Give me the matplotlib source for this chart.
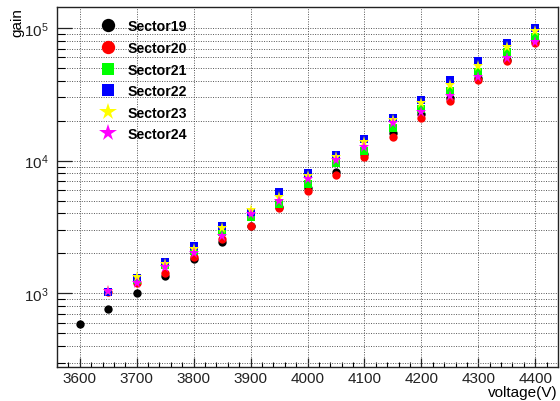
import matplotlib
matplotlib.use("Agg")
import matplotlib.pyplot as plt
from matplotlib.ticker import LogLocator, MultipleLocator, NullFormatter
import numpy as np

plt.rcParams['font.family'] = ['Liberation Sans', 'DejaVu Sans']

voltage = [3600, 3650, 3700, 3750, 3800, 3850, 3900, 3950, 4000, 4050,
           4100, 4150, 4200, 4250, 4300, 4350, 4400]
v24 = voltage[1:]

sector19 = [590, 757, 1010, 1358, 1800, 2423, 3200, 4500, 6224, 8260,
            11220, 16070, 22650, 29670, 42000, 57440, 80000]
sector20 = [1025, 1200, 1422, 1893, 2565, 3236, 4398, 5900, 7840,
            10590, 15000, 20860, 28320, 40790, 56150, 77750]
sector21 = [1030, 1250, 1620, 2100, 2914, 3727, 4710, 6667, 9600,
            11880, 17540, 24490, 33650, 46900, 65660, 85100]
sector22 = [1030, 1305, 1730, 2275, 3235, 4100, 5772, 8031, 11040,
            14560, 20860, 28640, 40550, 56640, 76730, 100000]
sector23 = [1035, 1321, 1670, 2158, 3090, 4246, 5296, 7710, 10570,
            13740, 20100, 27040, 37150, 52040, 71560, 95420]
sector24 = [1035, 1189, 1570, 2013, 2716, 3962, 4991, 7280, 10110,
            12730, 19150, 23450, 30920, 42990, 59130, 78840]

names = ['Sector19', 'Sector20', 'Sector21', 'Sector22', 'Sector23', 'Sector24']

fig = plt.figure(figsize=(5.6, 4.02), dpi=100)
ax = fig.add_axes([57/560, 1-368/402, (558-57)/560, (368-8)/402])

series = [
    (voltage, sector19, 'o', '#000000', 6.0),
    (v24, sector20, 'o', '#ff0000', 6.0),
    (v24, sector21, 's', '#00ff00', 5.8),
    (v24, sector22, 's', '#0000ff', 5.8),
    (v24, sector23, '*', '#ffff00', 8.2),
    (v24, sector24, '*', '#ff00ff', 8.2),
]
handles = []
for (x, y, m, c, ms), nm in zip(series, names):
    h, = ax.plot(x, y, linestyle='none', marker=m, color=c, markersize=ms,
                 markeredgewidth=0, label=nm, zorder=3)
    handles.append(h)

ax.set_yscale('log')
ax.set_xlim(3560, 4440)
ax.set_ylim(278, 1.44e5)

ax.xaxis.set_major_locator(MultipleLocator(100))
ax.xaxis.set_minor_locator(MultipleLocator(20))
ax.yaxis.set_major_locator(LogLocator(base=10))
ax.yaxis.set_minor_locator(LogLocator(base=10, subs=np.arange(2, 10)))
ax.yaxis.set_minor_formatter(NullFormatter())

ax.tick_params(axis='x', which='major', direction='in', length=6.5, width=0.9,
               labelsize=11, pad=3, top=False)
ax.tick_params(axis='x', which='minor', direction='in', length=3.3, width=0.8, top=False)
ax.tick_params(axis='y', which='major', direction='in', length=10.8, width=0.9,
               labelsize=11, pad=6, right=False)
ax.tick_params(axis='y', which='minor', direction='in', length=5.8, width=0.8, right=False)
ax.tick_params(colors='#222222')

ax.grid(True, axis='x', which='major', linestyle=(0, (1, 1.5)), color='#555555', linewidth=0.7)
ax.grid(True, axis='y', which='both', linestyle=(0, (1, 1.5)), color='#555555', linewidth=0.7)
ax.set_axisbelow(True)

for s in ax.spines.values():
    s.set_linewidth(1.0)
    s.set_color('#222222')

leg = ax.legend(handles=handles, loc='upper left', bbox_to_anchor=(0.067, 0.993),
                frameon=False, markerscale=1.6, prop={'weight': 'bold', 'size': 10.2},
                handlelength=1.0, handletextpad=0.9, labelspacing=0.535, borderpad=0.2)

fig.text(17/560, 1-8/402, 'gain', rotation=90, ha='center', va='top', fontsize=11)
fig.text(558/560, 1-400/402, 'voltage(V)', ha='right', va='bottom', fontsize=11)

fig.savefig('out.png', dpi=100)
